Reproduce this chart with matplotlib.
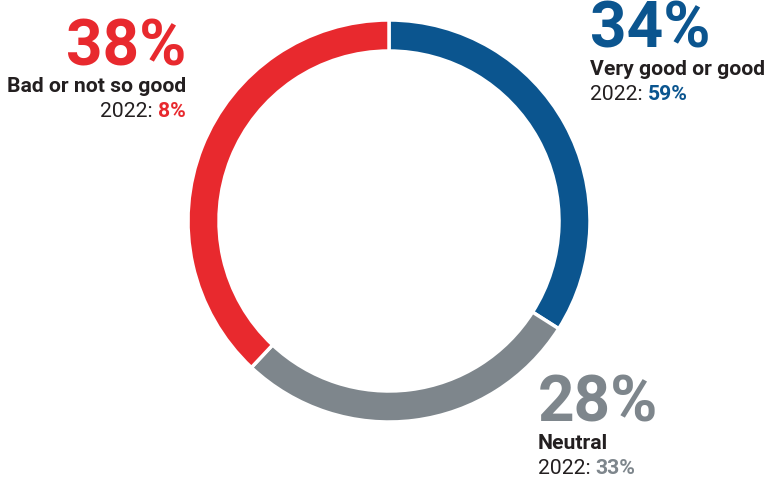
import matplotlib
matplotlib.use('Agg')
import matplotlib.pyplot as plt

plt.rcParams['font.family'] = ['Roboto', 'DejaVu Sans']

# survey shares, clockwise from 12 o'clock
labels = ['Very good or good', 'Neutral', 'Bad or not so good']
shares = [34, 28, 38]
shares_2022 = [59, 33, 8]
colors = ['#0b558f', '#7e868c', '#e8292e']
dark = '#231f20'

fig = plt.figure(figsize=(7.7, 4.81), dpi=100)
ax = fig.add_axes([0, 0, 1, 1])
ax.set_xlim(0, 770)
ax.set_ylim(0, 481)
ax.set_aspect('equal')
ax.axis('off')

ax.pie(shares, colors=colors, startangle=90, counterclock=False,
       center=(389, 259), radius=201,
       wedgeprops=dict(width=31, edgecolor='white', linewidth=2.5))
ax.set_xlim(0, 770)
ax.set_ylim(0, 481)

small = 15.2
# label blocks: (x, baseline of big number, alignment)
spots = [(590, 433, 'left'), (538, 59, 'left'), (186, 416, 'right')]
for (x, y, ha), lab, s, s22, c in zip(spots, labels, shares, shares_2022, colors):
    ax.text(x, y, f'{s}%', color=c, fontsize=46, fontweight='bold',
            ha=ha, va='baseline')
    ax.text(x, y - 27, lab, color=dark, fontsize=small, fontweight='bold',
            ha=ha, va='baseline')
    if ha == 'left':
        t = ax.text(x, y - 52, '2022: ', color=dark, fontsize=small,
                    ha='left', va='baseline')
        ax.annotate(f'{s22}%', xycoords=t, xy=(1, 0), color=c, fontsize=small,
                    fontweight='bold', ha='left', va='bottom')
    else:
        v = ax.text(x, y - 52, f'{s22}%', color=c, fontsize=small,
                    fontweight='bold', ha='right', va='baseline')
        ax.annotate('2022: ', xycoords=v, xy=(0, 0), color=dark, fontsize=small,
                    ha='right', va='bottom')

fig.savefig('out.png', dpi=100)
